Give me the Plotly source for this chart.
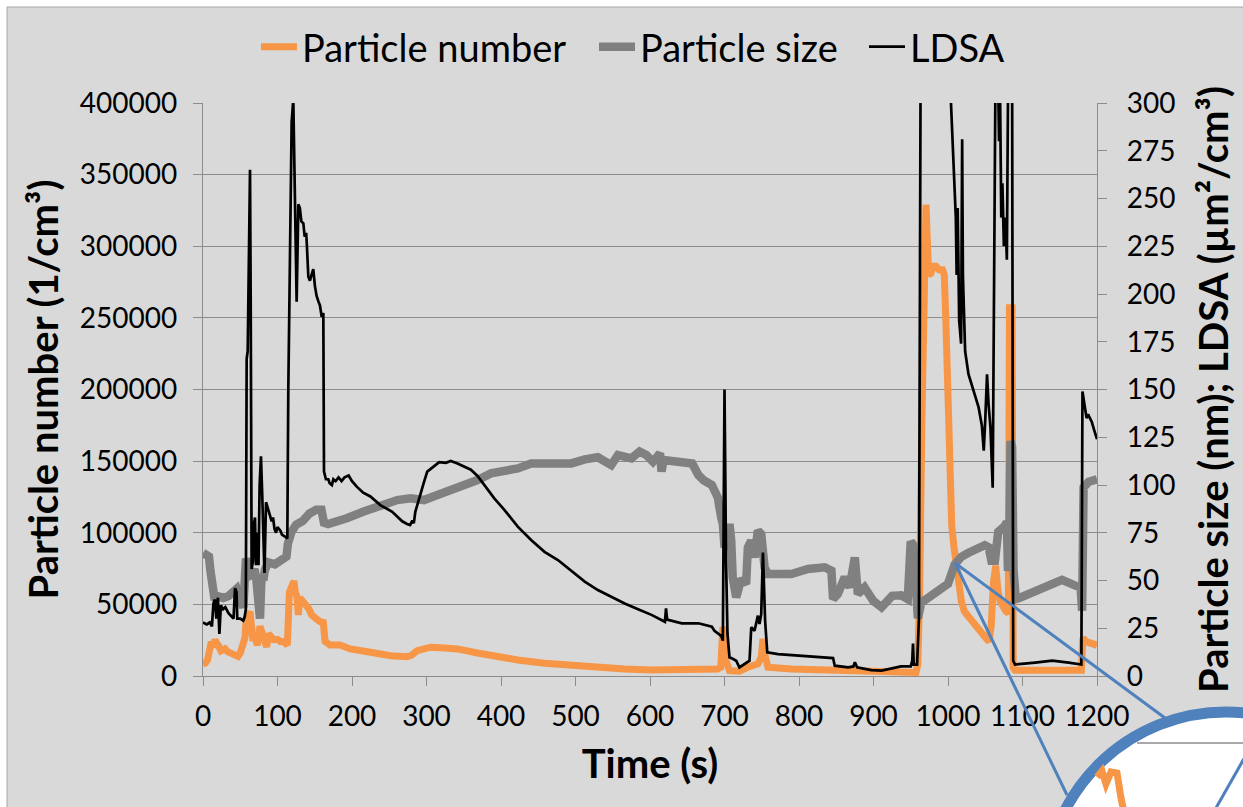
import plotly.graph_objects as go

# ---------------- data ----------------
pn_time = [0, 3, 6, 9, 11.2, 14, 16, 18, 20.6, 24, 27, 29.5, 33, 36.2, 40, 43, 47, 50, 51.9, 54,
           56.4, 58, 60, 63.1, 65, 66.7, 70, 73, 76.5, 79, 81, 85.5, 88, 91, 94.4, 100, 104, 107.8,
           111, 113.2, 115.9, 118, 122.1, 124, 126, 128, 130, 134, 139.2, 142, 145.9, 150, 154.9,
           158, 161.5, 163.8, 167, 170.5, 183.9, 197.8, 224.7, 251.7, 274, 280, 287.6, 295, 305.6,
           323.6, 341.6, 368.5, 395.5, 422.5, 458.4, 494.4, 530, 566, 602, 638, 683, 691, 695,
           697.8, 700, 702, 706.7, 720, 731, 744.8, 749.3, 751.6, 754, 758.3, 789.7, 834.5, 910.8,
           957, 959.5, 962, 965, 968, 970.5, 972.5, 974, 977, 980, 984, 988, 992.6, 995, 997, 999,
           1001, 1003, 1005, 1008, 1011, 1014, 1018, 1022, 1029, 1036, 1043, 1050, 1055, 1058,
           1061, 1064, 1067, 1070, 1078, 1081, 1082.5, 1086, 1087.5, 1090, 1179, 1181, 1186, 1193,
           1200]
pn_value = [8400, 9000, 11000, 22000, 24000, 20000, 25500, 23000, 21500, 17600, 18500, 19000, 17000,
            16300, 15500, 15000, 13700, 16000, 19000, 22000, 26800, 40000, 43000, 45000, 35000, 26800,
            27000, 21500, 34700, 30000, 26800, 20300, 29500, 27000, 25500, 25500, 24000, 24200, 22000,
            21600, 58400, 62000, 66300, 58000, 55800, 42600, 54500, 52000, 49200, 47000, 42600, 40000,
            38700, 37800, 37400, 24200, 22000, 21600, 21600, 18900, 16600, 14200, 13500, 14500, 17700,
            19000, 20100, 19600, 18900, 16100, 13500, 11200, 8900, 7200, 6100, 4900, 4200, 4200, 4700,
            4900, 6100, 34000, 31700, 10700, 3700, 3300, 6100, 8400, 13100, 25900, 15400, 6100, 4900,
            4200, 3700, 2500, 8000, 60000, 180000, 280000, 329000, 300000, 280000, 281000, 286000,
            286000, 283600, 283600, 280000, 250000, 215000, 168000, 128000, 105000, 90000, 77000,
            62000, 52000, 45000, 40000, 35000, 31000, 27000, 24000, 35000, 65000, 77000, 60000, 52000,
            45000, 44000, 257000, 257000, 6000, 4000, 4000, 26500, 24000, 22700, 21400]

ps_time = [0, 5, 8, 10, 11.2, 13.4, 15.7, 20, 27.3, 34, 40.7, 45.2, 50, 54.1, 57.7, 60, 63, 66, 69,
           71.5, 74, 76.5, 78.6, 81, 83, 87.6, 96.5, 105.6, 112, 114, 118.6, 125, 134, 143, 152, 159,
           162.4, 168, 175, 184, 193, 215.7, 238, 260.7, 278.7, 296.6, 314.6, 332.6, 350.6, 368.5,
           386.5, 404.5, 422.5, 440.4, 458.4, 476.4, 494.4, 512.4, 530, 548, 557, 575, 586, 595, 604,
           613.5, 615.5, 618, 638.7, 656.7, 665, 672, 683, 691, 695.5, 697.8, 700, 704.5, 706.7, 709,
           711, 715.7, 722.4, 729, 731.4, 735.9, 740.3, 744.8, 749.3, 753.8, 758, 771.7, 789.7, 812,
           834.5, 843.5, 845.7, 852, 861.4, 868, 874.9, 879, 888, 899.6, 910.8, 925, 937, 946, 950,
           953.5, 956.5, 959.6, 964, 970.9, 982, 993.3, 1000, 1009, 1018, 1026.9, 1035.8, 1049.4,
           1054.6, 1058.3, 1063, 1067.4, 1076, 1079, 1080.5, 1082, 1084, 1086, 1088, 1091, 1096.6,
           1117, 1139, 1153, 1171, 1178, 1180, 1182, 1189, 1197, 1200]
ps_value = [64.4, 63, 62.5, 55, 51.6, 43.7, 39.8, 41.8, 40.8, 41.8, 43.7, 45.7, 39.8, 35.9, 61.5, 58,
            52.5, 53, 56, 51, 33, 30, 53, 50, 55.5, 59.5, 58.5, 60.5, 62.5, 69.3, 75.3, 79.2, 81.2,
            85.1, 87, 87, 80.2, 79.5, 80.2, 82.2, 82.6, 86.1, 89.5, 92.1, 93, 92.1, 94.8, 97.3, 100,
            102.6, 106.1, 107, 108.7, 111.3, 111.3, 112.2, 111.3, 113.4, 114.5, 110.4, 115.7, 114,
            117.5, 115.7, 112.2, 116.6, 107, 113.1, 112.2, 111.3, 105.2, 102.5, 100, 93.5, 83, 79.6,
            67.4, 69, 79.6, 70.9, 51.7, 41.2, 50.8, 48.2, 67.4, 70.9, 62.1, 76.1, 74.3, 56.9, 53.4,
            53.4, 53.4, 56, 56.9, 55.1, 40.3, 42.9, 51.7, 46.4, 62.1, 42.9, 46.4, 39.4, 36, 42, 42.3,
            40.3, 70.5, 68.5, 50.3, 30.2, 38.3, 40.3, 44.3, 46.3, 48.3, 58.4, 62.4, 64.4, 66.4, 68.5,
            67.4, 60.4, 60.4, 75.5, 78.5, 80.5, 55, 60, 123, 120, 55, 40.3, 41, 44.3, 48.3, 50.3,
            47.3, 46.3, 34.2, 98.7, 101.7, 102.7, 103]

ldsa_time = [0, 5, 9, 12, 14, 16, 18, 20, 22, 24, 27, 30, 34, 38, 41, 43, 45, 46, 50, 54, 56, 57.5,
             58.6, 60, 62, 63.1, 64, 65.3, 67, 68.5, 69.8, 71, 73, 74.5, 76, 77.8, 79.5, 81, 82.5,
             84.6, 87, 89, 92.2, 94, 96, 98, 100, 104, 106, 110, 113.2, 114.5, 117, 119, 121.2, 123,
             125.7, 128, 130, 132, 134.7, 136.5, 138.5, 139.5, 141.4, 143.5, 145.5, 148, 150.3,
             152.5, 155, 157, 159.3, 161.5, 162.4, 165, 168.2, 170, 173, 175, 178, 182, 186, 190,
             195.5, 198, 200, 206.7, 215, 224.7, 238, 254, 260.7, 267.4, 274, 278, 281, 283, 285, 288,
             290, 294, 297, 301, 310, 317, 326, 332.6, 341.6, 350.6, 359.6, 368.5, 377.5, 391, 404.5,
             422.5, 440.4, 458.4, 476.4, 494.4, 512.4, 530, 548, 566, 584, 602, 620, 621.5, 623,
             642.7, 665, 683, 686.5, 695.5, 697.8, 699, 700, 701.2, 702, 704, 706.7, 711, 715.7, 720,
             727, 733.6, 735.9, 740.3, 744.8, 747, 749.3, 751.6, 754.5, 757.4, 771.7, 798.7, 825.6,
             845.7, 848, 866, 873, 875, 878, 897, 910.8, 937, 950, 952, 953, 954, 958.5, 961, 964,
             1000, 1004, 1007, 1009, 1010.5, 1011.6, 1013, 1015, 1017.6, 1019, 1020, 1021.5, 1023,
             1027.5, 1032, 1036.5, 1041, 1045.5, 1048, 1050, 1052.4, 1054.5, 1057, 1060, 1062, 1064,
             1067, 1068.5, 1070, 1071.5, 1073, 1075, 1077, 1079, 1081, 1086, 1087.5, 1090, 1117,
             1140, 1162, 1179, 1180.5, 1183, 1186, 1188, 1193, 1196, 1200]
ldsa_value = [28, 27, 28, 26, 38, 40, 30, 41, 22, 37, 35, 36, 33, 31, 30, 46, 44, 30, 30, 29, 31, 35,
              166, 170, 240, 265, 200, 56, 60, 80, 83, 58, 75, 58, 100, 115, 95, 72, 54, 91, 88, 85,
              81, 83, 77, 75, 78, 76, 74, 73, 72, 150, 240, 290, 302, 260, 196, 247, 245, 238, 237,
              230, 232, 225, 209, 207, 210, 213, 204, 199, 196, 194, 188, 190, 107, 103, 103, 101, 100,
              103, 102, 104, 102, 104, 105, 103, 102, 99, 96, 94, 89.5, 86, 83.4, 81, 79.6, 79, 81.3,
              80, 86, 90, 94, 99, 102, 107, 110, 112, 111.6, 112.6, 111.3, 109.6, 108, 104.7, 100, 93,
              87, 78.2, 71.2, 65, 60.7, 55.2, 49.4, 45, 41.5, 38, 35, 32, 28.4, 35.4, 29.5, 27.6, 27.6,
              25.8, 23.7, 21, 18.5, 100, 150, 100, 62, 22, 9.8, 9, 8, 4.5, 6.3, 8, 25.5, 23.7, 31.6,
              27.2, 32.5, 64.7, 29, 12.4, 11.5, 10.6, 9.8, 9.4, 5.4, 4.5, 5, 7.2, 4.5, 3.1, 2.8, 5, 5,
              8, 17, 6, 6, 30, 420, 400, 300, 270, 257, 240, 210, 245, 186, 174, 281, 210, 190, 170,
              158, 152, 146.6, 140.8, 131, 118, 134, 158, 142, 130, 98.6, 200, 330, 320, 280, 300,
              240, 258, 225, 240, 218, 330, 330, 8, 6, 7, 8, 7, 6, 149, 143, 135, 137, 133, 129, 124]

x_ticks = list(range(0, 1201, 100))
left_ticks = list(range(0, 400001, 50000))
right_ticks = list(range(0, 301, 25))

# ---------------- figure ----------------
W, H = 1243, 807
L, R, T, B = 203, 1097, 103, 676
FONT = "Lato"
GRID = "#8c8c8c"


def px(xp):
    return (xp - L) / (R - L)


def py(yp):
    return (B - yp) / (B - T)


fig = go.Figure()
fig.add_trace(go.Scatter(x=pn_time, y=pn_value, name="Particle number", mode="lines",
                         line=dict(color="#f79646", width=7), yaxis="y", legend="legend"))
fig.add_trace(go.Scatter(x=ps_time, y=ps_value, name="Particle size", mode="lines",
                         line=dict(color="#808080", width=8.5), yaxis="y2", legend="legend2"))
fig.add_trace(go.Scatter(x=ldsa_time, y=ldsa_value, name="LDSA", mode="lines",
                         line=dict(color="#000000", width=2.7), yaxis="y2", legend="legend3"))

BLUE = "#4f81bd"
shapes = [
    # chart area background with thin border
    dict(type="rect", xref="paper", yref="paper", x0=px(7), x1=px(1260), y0=py(7), y1=py(830),
         fillcolor="#d9d9d9", line=dict(color="#a6a6a6", width=1), layer="below"),
    # magnifier connector lines
    dict(type="line", xref="paper", yref="paper", x0=px(955), y0=py(563), x1=px(1067), y1=py(795),
         line=dict(color=BLUE, width=3)),
    dict(type="line", xref="paper", yref="paper", x0=px(955), y0=py(563), x1=px(1165), y1=py(718),
         line=dict(color=BLUE, width=3)),
    # magnifier circle
    dict(type="circle", xref="paper", yref="paper", x0=px(1226 - 181), x1=px(1226 + 181),
         y0=py(893 + 181), y1=py(893 - 181), fillcolor="white", line=dict(color=BLUE, width=11)),
    dict(type="line", xref="paper", yref="paper", x0=px(1137), y0=py(743), x1=px(1250), y1=py(743),
         line=dict(color=GRID, width=1.3)),
    dict(type="path", xref="paper", yref="paper",
         path="M {} {} L {} {} L {} {} L {} {} L {} {} L {} {} L {} {}".format(
             px(1097), py(777), px(1102), py(771), px(1106), py(784), px(1111), py(772),
             px(1117), py(773), px(1121), py(798), px(1124), py(812)),
         line=dict(color="#f79646", width=7)),
    dict(type="line", xref="paper", yref="paper", x0=px(1250), y0=py(748), x1=px(1212), y1=py(815),
         line=dict(color=BLUE, width=3)),
]

axis_common = dict(showline=True, linecolor=GRID, linewidth=1.3, ticks="outside", ticklen=9,
                   tickcolor=GRID, tickwidth=1.3, zeroline=False,
                   tickfont=dict(family=FONT, size=28, color="black"))

leg_common = dict(orientation="h", xanchor="left", y=py(47), yanchor="middle",
                  font=dict(family=FONT, size=38, color="black"), bgcolor="rgba(0,0,0,0)",
                  itemwidth=36)
TITLE_FONT = dict(family=FONT, size=40, color="black")

fig.update_layout(
    width=W, height=H,
    margin=dict(l=L, r=W - R, t=T, b=H - B, pad=0),
    paper_bgcolor="white", plot_bgcolor="#d9d9d9",
    font=dict(family=FONT, color="black"),
    showlegend=True,
    legend=dict(x=px(256), **leg_common),
    legend2=dict(x=px(594), **leg_common),
    legend3=dict(x=px(864), **leg_common),
    xaxis=dict(range=[0, 1200], tickvals=x_ticks, showgrid=False, ticklabelstandoff=6,
               title=dict(text="<b>Time (s)</b>", font=TITLE_FONT, standoff=19),
               **axis_common),
    yaxis=dict(range=[0, 400000], tickvals=left_ticks, ticktext=[str(v) for v in left_ticks],
               showgrid=True, gridcolor=GRID, gridwidth=1.3, ticklabelstandoff=10,
               title=dict(text="<b>Particle number (1/cm³)</b>", font=TITLE_FONT, standoff=8),
               **axis_common),
    yaxis2=dict(range=[0, 300], tickvals=right_ticks, overlaying="y", side="right",
                showgrid=False, ticklabelstandoff=14,
                title=dict(text="<b>Particle size (nm); LDSA (µm²/cm³)</b>", font=TITLE_FONT,
                           standoff=25),
                **axis_common),
    shapes=shapes,
)

fig.write_html("out.html")
